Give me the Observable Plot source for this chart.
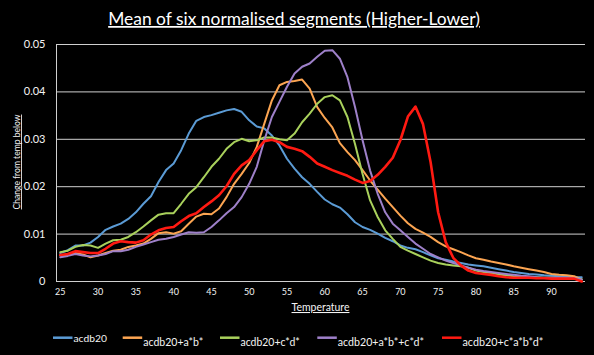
<!DOCTYPE html>
<html><head><meta charset="utf-8">
<script src="https://cdn.jsdelivr.net/npm/d3@7"></script>
<script src="https://cdn.jsdelivr.net/npm/@observablehq/plot@0.6"></script>
<style>
html,body{margin:0;padding:0;background:#000;}
#chart{width:594px;height:355px;overflow:hidden;background:#000;}
</style>
</head><body><div id="chart"></div>
<script>
const temperatures = [25,26,27,28,29,30,31,32,33,34,35,36,37,38,39,40,41,42,43,44,45,46,47,48,49,50,51,52,53,54,55,56,57,58,59,60,61,62,63,64,65,66,67,68,69,70,71,72,73,74,75,76,77,78,79,80,81,82,83,84,85,86,87,88,89,90,91,92,93,94];
const xTicks = [25,30,35,40,45,50,55,60,65,70,75,80,85,90];
const yTicks = [0,0.01,0.02,0.03,0.04,0.05];
const seriesNames = ["acdb20","acdb20+a*b*","acdb20+c*d*","acdb20+a*b*+c*d*","acdb20+c*a*b*d*"];

const acdb20 = [0.0060,0.0066,0.0076,0.0076,0.0082,0.0094,0.0109,0.0116,0.0122,0.0132,0.0146,0.0164,0.0180,0.0210,0.0235,0.0249,0.0277,0.0312,0.0339,0.0347,0.0351,0.0356,0.0361,0.0364,0.0358,0.0340,0.0327,0.0323,0.0308,0.0287,0.0259,0.0238,0.0220,0.0206,0.0189,0.0173,0.0163,0.0156,0.0142,0.0125,0.0115,0.0109,0.0101,0.0092,0.0085,0.0076,0.0071,0.0068,0.0062,0.0055,0.0049,0.0046,0.0042,0.0039,0.0036,0.0034,0.0032,0.0029,0.0026,0.0023,0.0020,0.0018,0.0016,0.0015,0.0013,0.0012,0.0011,0.0011,0.0009,0.0009];
const acdb20_ab = [0.0055,0.0056,0.0060,0.0057,0.0051,0.0055,0.0060,0.0065,0.0067,0.0073,0.0076,0.0080,0.0090,0.0102,0.0104,0.0101,0.0106,0.0122,0.0137,0.0143,0.0142,0.0154,0.0178,0.0206,0.0227,0.0250,0.0284,0.0333,0.0382,0.0414,0.0421,0.0423,0.0426,0.0407,0.0368,0.0345,0.0325,0.0292,0.0273,0.0256,0.0235,0.0213,0.0194,0.0175,0.0157,0.0139,0.0123,0.0111,0.0103,0.0094,0.0083,0.0074,0.0068,0.0062,0.0055,0.0049,0.0046,0.0042,0.0039,0.0036,0.0032,0.0029,0.0026,0.0023,0.0020,0.0016,0.0014,0.0013,0.0011,0.0004];
const acdb20_cd = [0.0062,0.0065,0.0073,0.0077,0.0076,0.0071,0.0080,0.0087,0.0088,0.0094,0.0104,0.0116,0.0129,0.0141,0.0144,0.0144,0.0164,0.0185,0.0199,0.0220,0.0242,0.0259,0.0280,0.0294,0.0301,0.0296,0.0298,0.0304,0.0304,0.0300,0.0298,0.0312,0.0336,0.0354,0.0375,0.0389,0.0393,0.0382,0.0347,0.0290,0.0227,0.0171,0.0136,0.0108,0.0090,0.0073,0.0065,0.0058,0.0051,0.0044,0.0039,0.0036,0.0034,0.0032,0.0029,0.0023,0.0020,0.0018,0.0015,0.0013,0.0011,0.0010,0.0009,0.0009,0.0008,0.0008,0.0007,0.0007,0.0006,0.0005];
const acdb20_abcd = [0.0051,0.0054,0.0058,0.0055,0.0053,0.0055,0.0058,0.0064,0.0064,0.0067,0.0073,0.0078,0.0083,0.0088,0.0090,0.0094,0.0099,0.0104,0.0103,0.0104,0.0115,0.0129,0.0144,0.0157,0.0178,0.0206,0.0242,0.0298,0.0347,0.0379,0.0411,0.0439,0.0453,0.0460,0.0474,0.0487,0.0488,0.0470,0.0431,0.0368,0.0298,0.0234,0.0185,0.0146,0.0122,0.0108,0.0094,0.0080,0.0069,0.0058,0.0051,0.0044,0.0039,0.0034,0.0029,0.0025,0.0022,0.0020,0.0018,0.0016,0.0014,0.0012,0.0011,0.0009,0.0008,0.0008,0.0008,0.0008,0.0007,0.0004];
const acdb20_cabd = [0.0056,0.0058,0.0064,0.0062,0.0060,0.0060,0.0069,0.0080,0.0085,0.0083,0.0082,0.0087,0.0099,0.0108,0.0113,0.0115,0.0127,0.0138,0.0144,0.0157,0.0169,0.0182,0.0201,0.0227,0.0245,0.0256,0.0277,0.0296,0.0299,0.0294,0.0284,0.0280,0.0275,0.0263,0.0249,0.0242,0.0235,0.0229,0.0223,0.0215,0.0208,0.0212,0.0225,0.0242,0.0261,0.0298,0.0348,0.0369,0.0332,0.0252,0.0146,0.0083,0.0050,0.0034,0.0023,0.0018,0.0016,0.0014,0.0011,0.0009,0.0008,0.0008,0.0008,0.0007,0.0007,0.0006,0.0006,0.0006,0.0006,0.0000];

const seriesValues = [acdb20, acdb20_ab, acdb20_cd, acdb20_abcd, acdb20_cabd];
const colors = ["#5b9bd5","#fca552","#a9d15c","#9e80c9","#ff1a12"];
const widths = [2, 2, 2, 2, 2.6];

const rows = [];
seriesNames.forEach((name, i) => {
  temperatures.forEach((t, j) => rows.push({series: name, t, v: seriesValues[i][j]}));
});

const FONT = "Lato, 'Open Sans', sans-serif";
const W = 594, H = 355;

const chart = Plot.plot({
  width: W, height: H,
  marginTop: 44, marginBottom: 74, marginLeft: 56, marginRight: 9,
  style: {background: "#000", color: "#fff", fontFamily: FONT},
  x: {type: "linear", domain: [24.5, 94.5]},
  y: {domain: [0, 0.05]},
  marks: [
    Plot.gridY(yTicks.slice(1), {stroke: "#d0d0d0", strokeOpacity: 1, strokeWidth: 1}),
    Plot.ruleY([0], {stroke: "#d0d0d0", strokeWidth: 1}),
    Plot.ruleX([24.5], {y1: 0, y2: 0.05, stroke: "#d0d0d0", strokeWidth: 1}),
    Plot.axisY(yTicks, {tickSize: 0, tickPadding: 11, fontSize: 11, label: null,
      tickFormat: d => d === 0 ? "0" : d.toFixed(2), fill: "#f4f4f4"}),
    Plot.axisX(xTicks, {tickSize: 0, tickPadding: 7, fontSize: 9, label: null, fill: "#f4f4f4"}),
    ...seriesNames.map((name, i) => Plot.line(rows.filter(r => r.series === name), {
      x: "t", y: "v", stroke: colors[i], strokeWidth: widths[i], strokeLinejoin: "round"
    }))
  ]
});

document.getElementById("chart").appendChild(chart);
const svg = d3.select(chart);

function fitWidth(sel, target) {
  const node = sel.node();
  const fs = parseFloat(sel.attr("font-size"));
  const w = node.getComputedTextLength();
  if (w > 0) sel.attr("font-size", (fs * target / w).toFixed(2));
}

// Title
const title = svg.append("text")
  .attr("x", 294).attr("y", 25)
  .attr("text-anchor", "middle")
  .attr("font-family", FONT).attr("font-size", 18)
  .attr("fill", "#fff")
  .style("text-decoration", "underline")
  .text("Mean of six normalised segments (Higher-Lower)");
fitWidth(title, 372);

// Y axis label
const ylab = svg.append("text")
  .attr("transform", "translate(20,162) rotate(-90)")
  .attr("text-anchor", "middle")
  .attr("font-family", FONT).attr("font-size", 9.5)
  .attr("fill", "#f4f4f4")
  .style("text-decoration", "underline")
  .text("Change from temp below");
fitWidth(ylab, 95);

// X axis label
const xlab = svg.append("text")
  .attr("x", 320.5).attr("y", 311)
  .attr("text-anchor", "middle")
  .attr("font-family", FONT).attr("font-size", 11)
  .attr("fill", "#f4f4f4")
  .style("text-decoration", "underline")
  .text("Temperature");
fitWidth(xlab, 58);

// Legend
const legendX = [53, 122.7, 220, 317.3, 442];
const legendTextW = [33.4, 60, 59.3, 86.3, 81];
const legendTextDy = [0, 4, 4, 4, 4];
const lg = svg.append("g").attr("text-anchor", "start");
seriesNames.forEach((name, i) => {
  lg.append("line")
    .attr("x1", legendX[i]).attr("x2", legendX[i] + 19.5)
    .attr("y1", 337.7).attr("y2", 337.7)
    .attr("stroke", colors[i]).attr("stroke-width", 2.5);
  const t = lg.append("text")
    .attr("x", legendX[i] + 20.5).attr("y", 338 + legendTextDy[i])
    .attr("dy", "0.35em")
    .attr("text-anchor", "start")
    .attr("font-family", FONT).attr("font-size", 11)
    .attr("fill", "#f4f4f4")
    .text(name);
  fitWidth(t, legendTextW[i]);
});
</script>
</body></html>
